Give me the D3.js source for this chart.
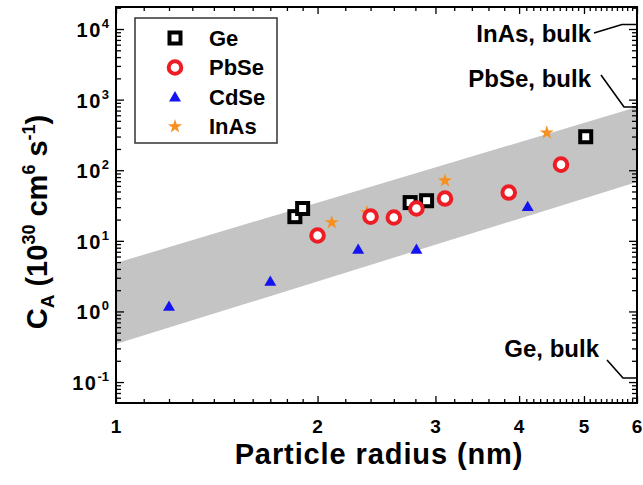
<!DOCTYPE html>
<html><head><meta charset="utf-8">
<script src="https://cdn.jsdelivr.net/npm/d3@7"></script>
<style>
body{margin:0;background:#fff}
svg text{font-family:"Liberation Sans",Arial,Helvetica,sans-serif;font-weight:bold;fill:#000}
</style>
</head><body>
<svg id="c" width="643" height="485"></svg>
<script>
// ---- data ----
const xTicks = [1, 2, 3, 4, 5, 6];
const yTicks = [0.1, 1, 10, 100, 1000, 10000];
const yTickExp = ["-1", "0", "1", "2", "3", "4"];

const seriesNames = ["Ge", "PbSe", "CdSe", "InAs"];
const geR   = [1.85, 1.90, 2.75, 2.91, 5.03];
const geC   = [22, 28.7, 34.8, 37, 298];
const pbseR = [2.00, 2.40, 2.60, 2.81, 3.10, 3.86, 4.62];
const pbseC = [11.9, 22, 21.4, 28.7, 39.7, 48.3, 120];
const cdseR = [1.20, 1.70, 2.30, 2.81, 4.12];
const cdseC = [1.18, 2.67, 7.56, 7.56, 30.6];
const inasR = [2.10, 2.37, 3.10, 4.40];
const inasC = [18.2, 25.2, 71.3, 340];

const bandR     = [1, 6];
const bandUpper = [4.85, 785];
const bandLower = [0.345, 68];

const bulkLabels = ["InAs, bulk", "PbSe, bulk", "Ge, bulk"];
const bulkC      = [11600, 785, 0.114];

// ---- layout ----
const svg = d3.select("#c");
const L = 116, R = 637, T = 7, B = 403;
const x = d3.scaleLog().domain([1, 6]).range([L, R]);
const y = d3.scaleLog().domain([0.0505, 20500]).range([B, T]);

// band
const bandPts = bandR.map((r, i) => [x(r), y(bandUpper[i])])
  .concat(bandR.map((r, i) => [x(r), y(bandLower[i])]).reverse());
svg.append("path").attr("d", d3.line()(bandPts) + "Z").attr("fill", "#c4c4c4");

// minor tick values
const yMinor = [];
for (let e = -2; e <= 4; e++) for (let m = 2; m <= 9; m++) {
  const v = m * Math.pow(10, e);
  if (v > y.domain()[0] && v < y.domain()[1]) yMinor.push(v);
}
const xMinor = [];
for (let v = 1.1; v < 1.95; v += 0.1) xMinor.push(+v.toFixed(2));
for (let v = 2.2; v < 3.95; v += 0.2) if (Math.abs(v - 3) > 0.05) xMinor.push(+v.toFixed(2));
for (let v = 4.1; v < 5.95; v += 0.1) if (Math.abs(v - 5) > 0.05) xMinor.push(+v.toFixed(2));

function styleAxis(g) {
  g.select(".domain").remove();
  g.selectAll("line").attr("stroke", "#000").attr("stroke-width", 1.3);
  g.selectAll("text").remove();
}
// bottom
svg.append("g").attr("transform", `translate(0,${B})`)
  .call(d3.axisBottom(x).tickValues(xTicks).tickSize(-7)).call(styleAxis);
svg.append("g").attr("transform", `translate(0,${B})`)
  .call(d3.axisBottom(x).tickValues(xMinor).tickSize(-4)).call(styleAxis);
// top
svg.append("g").attr("transform", `translate(0,${T})`)
  .call(d3.axisTop(x).tickValues(xTicks).tickSize(-7)).call(styleAxis);
svg.append("g").attr("transform", `translate(0,${T})`)
  .call(d3.axisTop(x).tickValues(xMinor).tickSize(-4)).call(styleAxis);
// left
svg.append("g").attr("transform", `translate(${L},0)`)
  .call(d3.axisLeft(y).tickValues(yTicks).tickSize(-8)).call(styleAxis);
svg.append("g").attr("transform", `translate(${L},0)`)
  .call(d3.axisLeft(y).tickValues(yMinor).tickSize(-5)).call(styleAxis);
// right
svg.append("g").attr("transform", `translate(${R},0)`)
  .call(d3.axisRight(y).tickValues(yTicks).tickSize(-8)).call(styleAxis);
svg.append("g").attr("transform", `translate(${R},0)`)
  .call(d3.axisRight(y).tickValues(yMinor).tickSize(-5)).call(styleAxis);

// frame
svg.append("rect").attr("x", L).attr("y", T).attr("width", R - L).attr("height", B - T)
  .attr("fill", "none").attr("stroke", "#000").attr("stroke-width", 2);

// tick labels
svg.append("g").selectAll("text").data(xTicks).join("text")
  .attr("x", d => x(d)).attr("y", 433).attr("text-anchor", "middle")
  .attr("font-size", 19).text(d => d);

const yl = svg.append("g").selectAll("text").data(yTicks).join("text")
  .attr("x", 109).attr("y", d => y(d) + 8).attr("text-anchor", "end")
  .attr("font-size", 20);
yl.append("tspan").attr("letter-spacing", 1.5).text("10");
yl.append("tspan").attr("font-size", 13).attr("dy", -9).text((d, i) => yTickExp[i]);

// axis titles
svg.append("text").attr("x", 379).attr("y", 464).attr("text-anchor", "middle")
  .attr("font-size", 29).attr("letter-spacing", 0.9).text("Particle radius (nm)");

const yt = svg.append("text").attr("transform", "translate(47,222) rotate(-90)")
  .attr("text-anchor", "middle").attr("font-size", 29);
yt.append("tspan").text("C");
yt.append("tspan").attr("font-size", 19).attr("dy", 7).text("A");
yt.append("tspan").attr("dy", -7).text(" (10");
yt.append("tspan").attr("font-size", 18).attr("dy", -12).text("30");
yt.append("tspan").attr("dy", 12).text(" cm");
yt.append("tspan").attr("font-size", 18).attr("dy", -12).text("6");
yt.append("tspan").attr("dy", 12).text(" s");
yt.append("tspan").attr("font-size", 18).attr("dy", -12).text("-1");
yt.append("tspan").attr("dy", 12).text(")");

// bulk annotations
const bulkText = [[591, 42], [591, 87], [599, 357]];
const bulkLead = [[[594, 33], [622, 25]], [[601, 75], [624, 0]], [[607, 360], [623, 0]]];
bulkLabels.forEach((lab, i) => {
  svg.append("text").attr("x", bulkText[i][0]).attr("y", bulkText[i][1])
    .attr("text-anchor", "end").attr("font-size", 24).text(lab);
  const yy = y(bulkC[i]);
  const p0 = bulkLead[i][0];
  const knee = [bulkLead[i][1][0], yy];
  svg.append("path").attr("d", d3.line()([p0, knee, [R, yy]]))
    .attr("fill", "none").attr("stroke", "#000").attr("stroke-width", 1.6);
});

// markers
function drawSquare(g, cx, cy) {
  g.append("rect").attr("x", cx - 5.5).attr("y", cy - 5.5).attr("width", 11).attr("height", 11)
    .attr("fill", "#fff").attr("stroke", "#000").attr("stroke-width", 4);
}
function drawCircle(g, cx, cy) {
  g.append("circle").attr("cx", cx).attr("cy", cy).attr("r", 6.3)
    .attr("fill", "#fff").attr("stroke", "#ee1c24").attr("stroke-width", 4);
}
const triSym = d3.symbol().type(d3.symbolTriangle).size(62);
const starSym = d3.symbol().type(d3.symbolStar).size(62);
function drawTri(g, cx, cy) {
  g.append("path").attr("d", triSym()).attr("transform", `translate(${cx},${cy + 1})`)
    .attr("fill", "#1414f0");
}
function drawStar(g, cx, cy) {
  g.append("path").attr("d", starSym()).attr("transform", `translate(${cx},${cy})`)
    .attr("fill", "#f7901e");
}
const pts = svg.append("g");
geR.forEach((r, i) => drawSquare(pts, x(r), y(geC[i])));
inasR.forEach((r, i) => drawStar(pts, x(r), y(inasC[i])));
cdseR.forEach((r, i) => drawTri(pts, x(r), y(cdseC[i])));
pbseR.forEach((r, i) => drawCircle(pts, x(r), y(pbseC[i])));

// legend
const lg = svg.append("g");
lg.append("rect").attr("x", 135).attr("y", 18).attr("width", 142).attr("height", 125)
  .attr("fill", "#fff").attr("stroke", "#333").attr("stroke-width", 1.5);
const drawers = [drawSquare, drawCircle, drawTri, drawStar];
seriesNames.forEach((n, i) => {
  const cy = 38 + i * 29.5;
  drawers[i](lg, 175, cy);
  lg.append("text").attr("x", 209).attr("y", cy + 7.5).attr("font-size", 22).text(n);
});
</script>
</body></html>
